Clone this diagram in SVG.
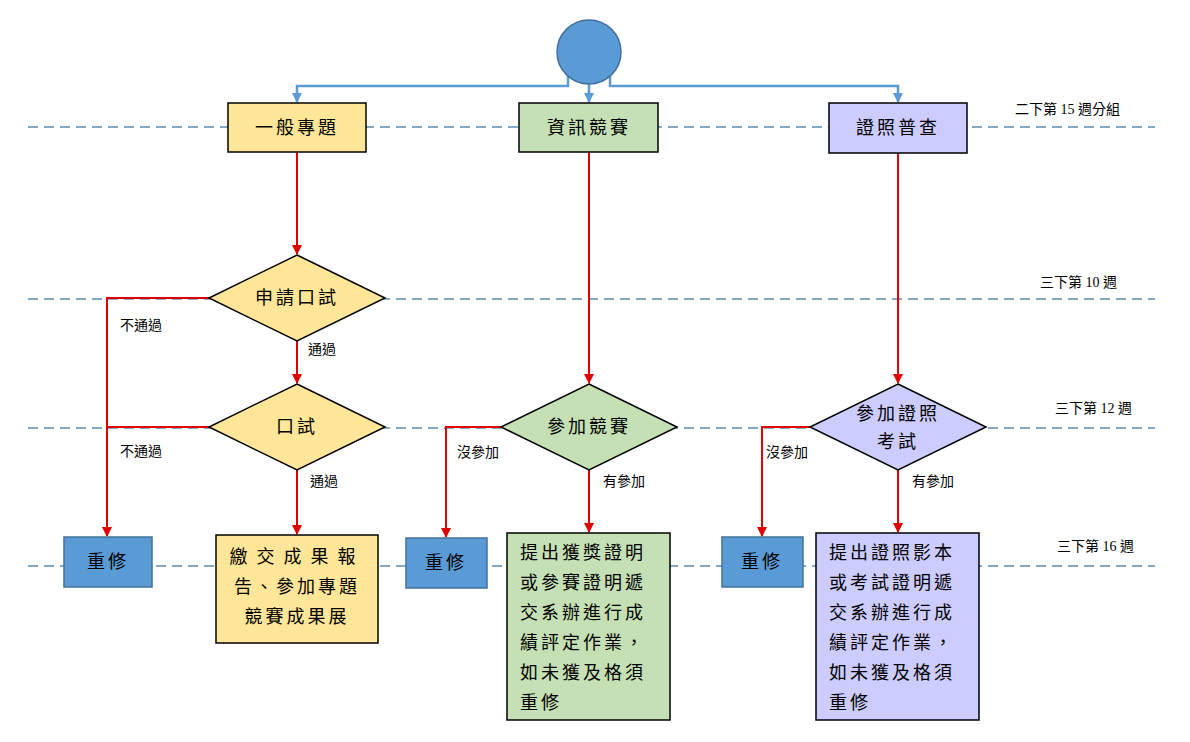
<svg xmlns="http://www.w3.org/2000/svg" width="1190" height="742" viewBox="0 0 1190 742">
<style>
text{font-family:"Liberation Serif","Noto Sans CJK TC",serif;fill:#000}
.t{font-size:18px;text-anchor:middle;dominant-baseline:central;letter-spacing:3px}
.s{font-size:14px;dominant-baseline:central}
.dash{stroke:#5B8DB8;stroke-width:1.5;stroke-dasharray:10 6;fill:none}
.b{stroke:#5B9BD5;stroke-width:2.5;fill:none}
.r{stroke:#E00000;stroke-width:2;fill:none}
.y{fill:#FFE699;stroke:#000;stroke-width:1.5}
.g{fill:#C5E0B4;stroke:#000;stroke-width:1.5}
.p{fill:#CCCCFF;stroke:#000;stroke-width:1.5}
.bl{fill:#5B9BD5;stroke:#41719C;stroke-width:1.5}
</style>
<defs>
<marker id="ab" viewBox="0 0 10 10" refX="9" refY="5" markerWidth="4" markerHeight="4" orient="auto"><path d="M0,0L10,5L0,10z" fill="#5B9BD5"/></marker>
<marker id="ar" viewBox="0 0 10 10" refX="9" refY="5" markerWidth="5" markerHeight="5" orient="auto"><path d="M0,0L10,5L0,10z" fill="#E00000"/></marker>
</defs>
<g id="lanes">
<path class="dash" d="M28,127H1155M28,299H1155M28,428H1155M28,566H1155"/>
<text class="s" x="1015" y="109">二下第 15 週分組</text>
<text class="s" x="1040" y="282">三下第 10 週</text>
<text class="s" x="1055" y="408">三下第 12 週</text>
<text class="s" x="1057" y="546">三下第 16 週</text>
</g>
<g id="connectors">
<path class="b" d="M568,76V86H297V102" marker-end="url(#ab)"/>
<path class="b" d="M589,84V102" marker-end="url(#ab)"/>
<path class="b" d="M610,76V86H898V102" marker-end="url(#ab)"/>
<path class="r" d="M297,152V254" marker-end="url(#ar)"/>
<path class="r" d="M297,341V383" marker-end="url(#ar)"/>
<path class="r" d="M209,298H107V536" marker-end="url(#ar)"/>
<path class="r" d="M209,427H107"/>
<path class="r" d="M297,470V534" marker-end="url(#ar)"/>
<path class="r" d="M589,152V383" marker-end="url(#ar)"/>
<path class="r" d="M501,427H446V537" marker-end="url(#ar)"/>
<path class="r" d="M589,470V532" marker-end="url(#ar)"/>
<path class="r" d="M898,153V383" marker-end="url(#ar)"/>
<path class="r" d="M810,427H762V536" marker-end="url(#ar)"/>
<path class="r" d="M898,470V532" marker-end="url(#ar)"/>
<text class="s" x="120" y="325">不通過</text>
<text class="s" x="308" y="349">通過</text>
<text class="s" x="120" y="451">不通過</text>
<text class="s" x="310" y="481">通過</text>
<text class="s" x="457" y="452">沒參加</text>
<text class="s" x="603" y="481">有參加</text>
<text class="s" x="766" y="452">沒參加</text>
<text class="s" x="912" y="481">有參加</text>
</g>
<g id="start"><circle cx="589" cy="52" r="32" class="bl"/></g>
<g id="n1"><rect x="228" y="103" width="138" height="49" class="y"/><text class="t" x="297" y="128">一般專題</text></g>
<g id="n2"><rect x="519" y="103" width="139" height="49" class="g"/><text class="t" x="589" y="128">資訊競賽</text></g>
<g id="n3"><rect x="829" y="103" width="138" height="50" class="p"/><text class="t" x="898" y="128">證照普查</text></g>
<g id="d1"><path d="M297,255L385,298L297,341L209,298z" class="y"/><text class="t" x="297" y="298">申請口試</text></g>
<g id="d2"><path d="M297,384L385,427L297,470L209,427z" class="y"/><text class="t" x="297" y="427">口試</text></g>
<g id="d3"><path d="M589,384L677,427L589,470L501,427z" class="g"/><text class="t" x="589" y="427">參加競賽</text></g>
<g id="d4"><path d="M898,384L986,427L898,470L810,427z" class="p"/><text class="t" x="898" y="414">參加證照</text><text class="t" x="898" y="442">考試</text></g>
<g id="r1"><rect x="64" y="537" width="88" height="50" class="bl"/><text class="t" x="108" y="562">重修</text></g>
<g id="r2"><rect x="406" y="538" width="81" height="50" class="bl"/><text class="t" x="446" y="563">重修</text></g>
<g id="r3"><rect x="722" y="537" width="81" height="50" class="bl"/><text class="t" x="762" y="562">重修</text></g>
<g id="e1"><rect x="216" y="535" width="162" height="108" class="y"/>
<text class="t" x="297" y="557" style="letter-spacing:9px">繳交成果報</text>
<text class="t" x="297" y="587" style="letter-spacing:3px">告、參加專題</text>
<text class="t" x="297" y="617" style="letter-spacing:3px">競賽成果展</text></g>
<g id="e2"><rect x="507" y="533" width="163" height="187" class="g"/>
<text class="t" x="520" y="553" style="text-anchor:start">提出獲獎證明</text>
<text class="t" x="520" y="583" style="text-anchor:start">或參賽證明遞</text>
<text class="t" x="520" y="613" style="text-anchor:start">交系辦進行成</text>
<text class="t" x="520" y="643" style="text-anchor:start">績評定作業，</text>
<text class="t" x="520" y="673" style="text-anchor:start">如未獲及格須</text>
<text class="t" x="520" y="703" style="text-anchor:start">重修</text></g>
<g id="e3"><rect x="816" y="533" width="163" height="187" class="p"/>
<text class="t" x="829" y="553" style="text-anchor:start">提出證照影本</text>
<text class="t" x="829" y="583" style="text-anchor:start">或考試證明遞</text>
<text class="t" x="829" y="613" style="text-anchor:start">交系辦進行成</text>
<text class="t" x="829" y="643" style="text-anchor:start">績評定作業，</text>
<text class="t" x="829" y="673" style="text-anchor:start">如未獲及格須</text>
<text class="t" x="829" y="703" style="text-anchor:start">重修</text></g>
</svg>
